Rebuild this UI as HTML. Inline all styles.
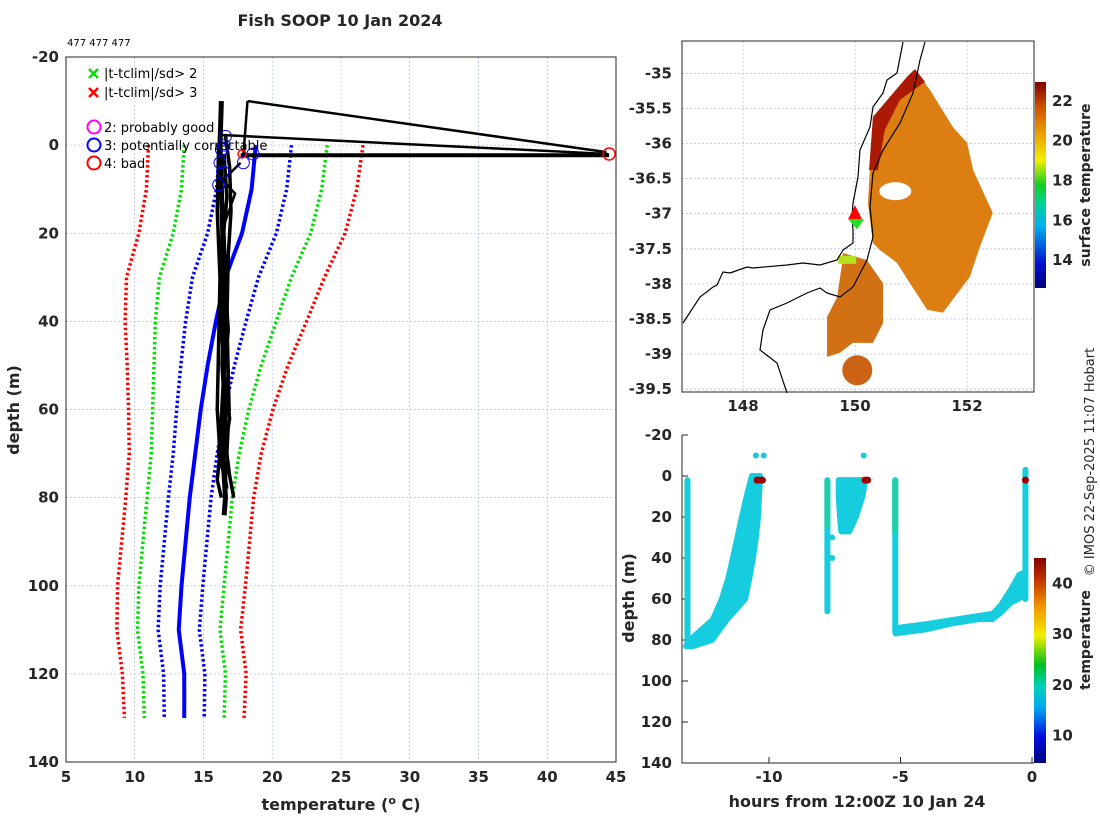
<!DOCTYPE html>
<html><head><meta charset="utf-8"><style>
body{margin:0;background:#fff}
svg{display:block;font-family:"DejaVu Sans","Liberation Sans",sans-serif}
.tk{font-size:15px;font-weight:bold;fill:#262626}
.lb{font-size:16px;font-weight:bold;fill:#262626}
.lg{font-size:13px;fill:#000}
.grid{stroke:#b8c4e0;stroke-width:0.8;stroke-dasharray:2,2}
</style></head><body>
<svg id="s" width="1100" height="820" viewBox="0 0 1100 820" xmlns="http://www.w3.org/2000/svg">
<defs>
<linearGradient id="g1" x1="0" y1="1" x2="0" y2="0">
<stop offset="0" stop-color="#00007f"/><stop offset="0.12" stop-color="#0010d0"/><stop offset="0.3" stop-color="#00b0f0"/><stop offset="0.4" stop-color="#00d0a0"/><stop offset="0.5" stop-color="#10d020"/><stop offset="0.62" stop-color="#f0f000"/><stop offset="0.72" stop-color="#f0b000"/><stop offset="0.88" stop-color="#d05000"/><stop offset="1" stop-color="#800000"/>
</linearGradient>
<linearGradient id="g2" x1="0" y1="1" x2="0" y2="0">
<stop offset="0" stop-color="#00007f"/><stop offset="0.13" stop-color="#0010e0"/><stop offset="0.27" stop-color="#00a8f0"/><stop offset="0.37" stop-color="#00d0c0"/><stop offset="0.48" stop-color="#00c020"/><stop offset="0.62" stop-color="#f0f000"/><stop offset="0.77" stop-color="#f09000"/><stop offset="0.9" stop-color="#c03000"/><stop offset="1" stop-color="#800000"/>
</linearGradient>
</defs>
<text x="340" y="26" text-anchor="middle" class="lb">Fish SOOP 10 Jan 2024</text>
<text x="67" y="46" style="font-size:10px">477 477 477</text>
<g id="main"></g>
<g id="map"></g>
<g id="ts"></g>
<text transform="translate(1094,462) rotate(-90)" text-anchor="middle" style="font-size:13px;fill:#262626">© IMOS 22-Sep-2025 11:07 Hobart</text>
</svg>
<script>
// ---- Profile plot data ----
const climDepth=[0,10,20,30,40,50,60,70,80,90,100,110,120,130];
const climMean=[18.8,18.5,17.8,16.6,15.9,15.3,14.8,14.4,14.0,13.7,13.4,13.2,13.6,13.6];
const climSd=[2.6,2.55,2.5,2.4,2.2,1.95,1.75,1.6,1.55,1.55,1.55,1.5,1.5,1.45];
const xTicks=[5,10,15,20,25,30,35,40,45];
const yTicks=[-20,0,20,40,60,80,100,120,140];
const tr1T=[16.3,16.2,16.3,16.4,16.3,16.5,16.4,16.6,16.4,16.6,16.5];
const tr1D=[-10,0,10,20,30,40,50,60,70,80,84];
const tr2T=[16.6,16.9,17.0,16.8,16.7,16.8,16.5,16.9,17.2];
const tr2D=[-2,5,15,25,40,55,65,75,80];
const tr3T=[16.1,16.0,16.2,16.1,16.0,16.2,16.0,16.3];
const tr3D=[0,15,30,45,60,70,76,80];
const tr4T=[17.7,16.4,17.3,16.5,16.7,16.9,16.6];
const tr4D=[4,8,11,18,35,60,78];
const tr5T=[16.5,16.7,16.4,16.6,16.8,16.5,16.9,16.4,16.7];
const tr5D=[2,12,22,32,42,52,62,72,78];
const tr6T=[16.2,16.4,16.3,16.2,16.5,16.3,16.1,16.6];
const tr6D=[5,18,28,38,50,62,70,76];
const spikeT=[18.2,44.3];
const spikeD=[-10,1.6];
const spike2T=[16.3,44.4];
const spike2D=[-2.3,2];
const spike3T=[17.7,44.5];
const spike3D=[2.3,2.3];
const spikeVT=[18.2,17.9];
const spikeVD=[-10,2.3];
const flagBlueT=[16.6,16.3,16.2,16.4,16.1,17.9,18.6,16.5];
const flagBlueD=[-2,1,4,6,9,4,2,0];
const flagRedT=[44.5,17.8];
const flagRedD=[2,2];

const NS='http://www.w3.org/2000/svg';
function mk(p,t,a){const e=document.createElementNS(NS,t);for(const k in a)e.setAttribute(k,a[k]);p.appendChild(e);return e;}
function pts(xs,ys,fx,fy){return xs.map((v,i)=>fx(v)+','+fy(ys[i])).join(' ');}

const M=document.getElementById('main');
const mx=t=>66+(t-5)*13.75, my=d=>57+(d+20)*4.40625;
xTicks.forEach(t=>{const l=mk(M,'line',{x1:mx(t),x2:mx(t),y1:57,y2:762,class:'grid'});
 const tx=mk(M,'text',{x:mx(t),y:782,'text-anchor':'middle',class:'tk'});tx.textContent=t;});
yTicks.forEach(d=>{const l=mk(M,'line',{x1:66,x2:616,y1:my(d),y2:my(d),class:'grid'});
 const tx=mk(M,'text',{x:59,y:my(d)+5,'text-anchor':'end',class:'tk'});tx.textContent=d;});
let fr=mk(M,'rect',{x:66,y:57,width:550,height:705,fill:'none',stroke:'#262626','stroke-width':1});

let xl=mk(M,'text',{x:341,y:810,'text-anchor':'middle',class:'lb'});xl.innerHTML='temperature (<tspan dy="-6" style="font-size:11px">o</tspan><tspan dy="6"> C)</tspan>';

let yl=mk(M,'text',{transform:'translate(19,410) rotate(-90)','text-anchor':'middle',class:'lb'});yl.textContent='depth (m)';

[[3,'#ff0000'],[-3,'#ff0000'],[2,'#00e000'],[-2,'#00e000'],[1,'#0000ff'],[-1,'#0000ff']].forEach(([k,c])=>{
 const p=mk(M,'polyline',{points:pts(climMean.map((m,i)=>m+k*climSd[i]),climDepth,mx,my),fill:'none',stroke:c,'stroke-width':3.5,'stroke-dasharray':'2.5,2.5'});
 });
let cm=mk(M,'polyline',{points:pts(climMean,climDepth,mx,my),fill:'none',stroke:'#0000ff','stroke-width':4});

[[tr1T,tr1D,5],[tr2T,tr2D,3.5],[tr3T,tr3D,3.5],[tr4T,tr4D,2.5],[tr5T,tr5D,3.5],[tr6T,tr6D,3.5],[spikeT,spikeD,2.5],[spike2T,spike2D,2.5],[spike3T,spike3D,4],[spikeVT,spikeVD,2.5]].forEach(([t,d,w])=>{
 const p=mk(M,'polyline',{points:pts(t,d,mx,my),fill:'none',stroke:'#000','stroke-width':w,'stroke-linejoin':'round'});
 });
flagBlueT.forEach((t,i)=>{const c=mk(M,'circle',{cx:mx(t),cy:my(flagBlueD[i]),r:6,fill:'none',stroke:'#0000ff','stroke-width':1});});
flagRedT.forEach((t,i)=>{const c=mk(M,'circle',{cx:mx(t),cy:my(flagRedD[i]),r:i==0?6:4,fill:'none',stroke:'#ff0000','stroke-width':1.5});});
function lgX(y,c,txt){const g=mk(M,'g',{});
 mk(g,'path',{d:`M89 ${y-4}l9 9M98 ${y-4}l-9 9`,stroke:c,'stroke-width':2.5});const t=mk(g,'text',{x:104,y:y+5,class:'lg'});t.textContent=txt;}
lgX(73,'#00e000','|t-tclim|/sd> 2');lgX(92,'#ff0000','|t-tclim|/sd> 3');
function lgO(y,c,txt){const g=mk(M,'g',{});
 mk(g,'circle',{cx:94,cy:y,r:6.5,fill:'none',stroke:c,'stroke-width':2});const t=mk(g,'text',{x:104,y:y+5,class:'lg'});t.textContent=txt;}
lgO(127,'#ff00ff','2: probably good');lgO(145,'#0000ff','3: potentially correctable');lgO(163,'#ff0000','4: bad');

// ---- Map ----
const lonTicks=[148,150,152];
const latTicks=[-35,-35.5,-36,-36.5,-37,-37.5,-38,-38.5,-39,-39.5];
const sstMainLon=[151.07,151.34,151.75,152.0,152.11,152.46,152.23,152.05,151.57,151.29,150.98,150.75,150.45,150.32,150.23,150.32,150.93];
const sstMainLat=[-34.94,-35.24,-35.77,-35.99,-36.38,-36.99,-37.47,-37.90,-38.41,-38.37,-37.99,-37.70,-37.52,-37.42,-36.85,-35.62,-35.05];
const sstSouthLon=[149.78,150.21,150.5,150.5,150.32,149.96,149.73,149.5,149.5,149.68,149.77];
const sstSouthLat=[-37.56,-37.66,-37.99,-38.56,-38.84,-38.84,-38.98,-39.04,-38.47,-38.19,-37.7];
const sstWarmLon=[150.32,150.93,151.07,151.25,150.8,150.53,150.41,150.25];
const sstWarmLat=[-35.62,-35.05,-34.94,-35.12,-35.38,-35.81,-36.38,-36.38];
const shipLon=[150.0];const shipLat=[-37.05];
const P=document.getElementById('map');
const lx=l=>682+(l-146.91)*56, ly=a=>41+(-34.54-a)*70.2;
lonTicks.forEach(l=>{const g=mk(P,'line',{x1:lx(l),x2:lx(l),y1:41,y2:392,class:'grid'});
 const t=mk(P,'text',{x:lx(l),y:411,'text-anchor':'middle',class:'tk'});t.textContent=l;});
latTicks.forEach(a=>{const g=mk(P,'line',{x1:682,x2:1034,y1:ly(a),y2:ly(a),class:'grid'});
 const t=mk(P,'text',{x:672,y:ly(a)+5,'text-anchor':'end',class:'tk'});t.textContent=a;});
let s1=mk(P,'polygon',{points:pts(sstMainLon,sstMainLat,lx,ly),fill:'#dc7e12'});
let s2=mk(P,'polygon',{points:pts(sstSouthLon,sstSouthLat,lx,ly),fill:'#d27014'});
let s3=mk(P,'polygon',{points:pts(sstWarmLon,sstWarmLat,lx,ly),fill:'#aa1a05'});
let s4=mk(P,'circle',{cx:lx(150.04),cy:ly(-39.23),r:15,fill:'#cc6214'});
let s5=mk(P,'ellipse',{cx:lx(150.72),cy:ly(-36.68),rx:16,ry:9,fill:'#fff'});
let s6=mk(P,'rect',{x:lx(149.7),y:ly(-37.6),width:18,height:8,fill:'#b8e020'});
let c1=mk(P,'polyline',{points:'903,42 897,73 887,80 883,93 873,107 870,127 860,150 858,177 853,203 852,217 853,230 853,243 843,250 837,260 820,265 803,263 787,265 753,268 747,267 730,273 723,272 717,285 713,287 700,297 683,323',fill:'none',stroke:'#000','stroke-width':1.2});

let c2=mk(P,'polyline',{points:'925,42 920,60 913,93 900,123 883,150 873,173 870,207 873,237 867,260 853,287 840,297 827,293 820,288 807,293 787,303 770,310 763,330 760,350 777,363 787,393',fill:'none',stroke:'#000','stroke-width':1.2});

shipLon.forEach((l,i)=>{const x=lx(l),y=ly(shipLat[i]);
 const a=mk(P,'polygon',{points:`${x},${y-12} ${x-7},${y+2} ${x+7},${y+2}`,fill:'#ff0000'});
 const b=mk(P,'polygon',{points:`${x-7},${y+2} ${x+9},${y+2} ${x+2},${y+12}`,fill:'#20e020'});});
let mf=mk(P,'rect',{x:682,y:41,width:352,height:351,fill:'none',stroke:'#262626'});
const cb1Ticks=[14,16,18,20,22];
const cby=t=>288-(t-12.6)*19.9;
let cb1=mk(P,'rect',{x:1035,y:82,width:11,height:206,fill:'url(#g1)'});
cb1Ticks.forEach(t=>{const e=mk(P,'text',{x:1052,y:cby(t)+5,class:'tk'});e.textContent=t;});
let cbl=mk(P,'text',{transform:'translate(1090,185) rotate(-90)','text-anchor':'middle',class:'lb',style:'font-size:14px'});cbl.textContent='surface temperature';


// ---- Time-depth plot ----
const hTicks=[-10,-5,0];
const dTicks=[-20,0,20,40,60,80,100,120,140];
const castAD=[0,10,20,30,40,50,60,70,80,83];
const castAMin=[-10.65,-10.85,-11.03,-11.2,-11.37,-11.55,-11.79,-12.13,-13.0,-13.15];
const castAMax=[-10.34,-10.38,-10.42,-10.5,-10.61,-10.75,-10.91,-11.6,-12.17,-12.9];
const castBD=[2,10,20,27];
const castBMin=[-7.35,-7.35,-7.3,-7.25];
const castBMax=[-6.35,-6.45,-6.7,-6.95];
const castCH=[-5.2,-4,-3,-2,-1.5,-1.2,-0.8,-0.5,-0.3];
const castCTop=[74,72,70,68,67,63,55,48,47];
const castCBot=[77,75,72,70,70,67,62,60,58];
const vertH=[-13.1,-7.78,-5.2,-0.25];
const vertTop=[2,2,2,-3];
const vertBot=[83,66,76,60];
const hotH=[-10.45,-10.35,-10.25,-6.35,-6.25,-0.25];
const hotD=[2,2,2,2,2,2];
const spotH=[-10.5,-10.2,-6.4,-11.2,-7.6,-7.6];
const spotD=[-10,-10,-10,37,40,30];
const T=document.getElementById('ts');
const hx=h=>1032+h*26.3, dy=d=>435+(d+20)*2.05;
hTicks.forEach(h=>{mk(T,'line',{x1:hx(h),x2:hx(h),y1:763,y2:757,stroke:'#262626'});const e=mk(T,'text',{x:hx(h),y:782,'text-anchor':'middle',class:'tk'});e.textContent=h;});
dTicks.forEach(d=>{mk(T,'line',{x1:682,x2:688,y1:dy(d),y2:dy(d),stroke:'#262626'});const e=mk(T,'text',{x:672,y:dy(d)+5,'text-anchor':'end',class:'tk'});e.textContent=d;});
let ax=mk(T,'path',{d:'M682 435V763H1034',fill:'none',stroke:'#262626'});
let tx1=mk(T,'text',{x:857,y:807,'text-anchor':'middle',class:'lb'});tx1.textContent='hours from 12:00Z 10 Jan 24';
let ty1=mk(T,'text',{transform:'translate(634,598) rotate(-90)','text-anchor':'middle',class:'lb'});ty1.textContent='depth (m)';
function band(xsA,xsB,ys,fx,fy,fill,name){const a=xsA.map((v,i)=>fx(v)+','+fy(ys[i]));const b=xsB.map((v,i)=>fx(v)+','+fy(ys[i])).reverse();
 const e=mk(T,'polygon',{points:a.concat(b).join(' '),fill:fill,stroke:fill,'stroke-width':6,'stroke-linejoin':'round'});}
band(castAMin,castAMax,castAD,hx,dy,'#16cde0','cast-a-band');
band(castBMin,castBMax,castBD,hx,dy,'#16cde0','cast-b-band');
let cc=mk(T,'polygon',{points:castCH.map((h,i)=>hx(h)+','+dy(castCTop[i])).concat(castCH.map((h,i)=>hx(h)+','+dy(castCBot[i])).reverse()).join(' '),fill:'#16cde0',stroke:'#16cde0','stroke-width':5,'stroke-linejoin':'round'});

vertH.forEach((h,i)=>{const l=mk(T,'line',{x1:hx(h),x2:hx(h),y1:dy(vertTop[i]),y2:dy(vertBot[i]),stroke:'#16cde0','stroke-width':6,'stroke-linecap':'round'});});
let tl=mk(T,'line',{x1:hx(-7.78),x2:hx(-7.78),y1:dy(2),y2:dy(25),stroke:'#20d0a8','stroke-width':6});
let tl2=mk(T,'line',{x1:hx(-5.2),x2:hx(-5.2),y1:dy(2),y2:dy(28),stroke:'#20d0a8','stroke-width':6});
spotH.forEach((h,i)=>{const c=mk(T,'circle',{cx:hx(h),cy:dy(spotD[i]),r:3,fill:'#16cde0'});});
hotH.forEach((h,i)=>{const c=mk(T,'circle',{cx:hx(h),cy:dy(hotD[i]),r:3.5,fill:'#a00000'});});
const cb2Ticks=[10,20,30,40];
const cty=t=>763-(t-4.6)*5.07;
let cb2=mk(T,'rect',{x:1034,y:558,width:12,height:205,fill:'url(#g2)'});
cb2Ticks.forEach(t=>{const e=mk(T,'text',{x:1052,y:cty(t)+5,class:'tk'});e.textContent=t;});
let cl2=mk(T,'text',{transform:'translate(1090,640) rotate(-90)','text-anchor':'middle',class:'lb',style:'font-size:14px'});cl2.textContent='temperature';

</script>
</body></html>
